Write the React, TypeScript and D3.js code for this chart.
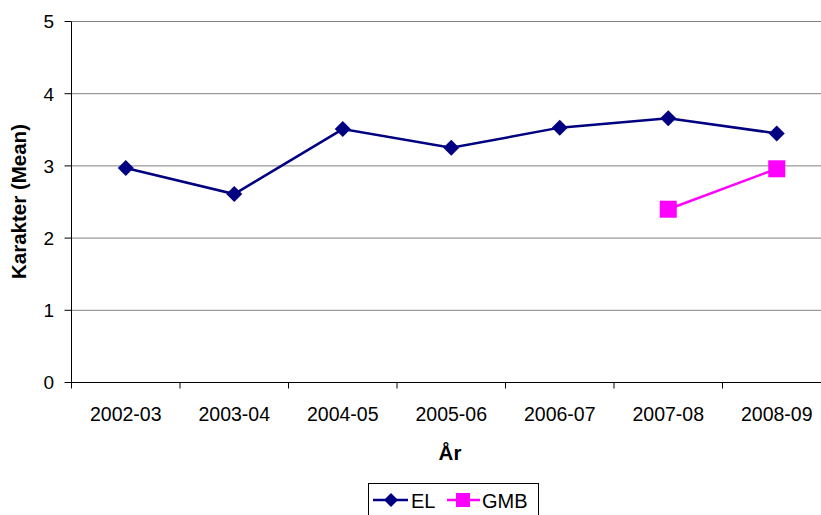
import React from "react";
import * as d3 from "d3";

const categories = ["2002-03", "2003-04", "2004-05", "2005-06", "2006-07", "2007-08", "2008-09"];
const elValues: (number | null)[] = [2.97, 2.61, 3.51, 3.25, 3.53, 3.66, 3.45];
const gmbValues: (number | null)[] = [null, null, null, null, null, 2.4, 2.96];
const yTicks = [0, 1, 2, 3, 4, 5];

const W = 821, H = 515;
const left = 71.5, right = 831, top = 21.5, bottom = 382.5;

export default function App() {
  const x = d3.scaleBand<string>().domain(categories).range([left, right]);
  const y = d3.scaleLinear().domain([0, 5]).range([bottom, top]);
  const cx = (c: string) => (x(c) as number) + x.bandwidth() / 2;

  const mk = (vals: (number | null)[]) =>
    d3.line<[string, number | null]>()
      .defined((d) => d[1] != null)
      .x((d) => cx(d[0]))
      .y((d) => y(d[1] as number))(categories.map((c, i) => [c, vals[i]]));

  const font = "'Liberation Sans', Arial, sans-serif";
  const navy = "#000080";
  const mag = "#FF00FF";

  return (
    <svg width={W} height={H} style={{ position: "absolute", left: 0, top: 0, background: "#fff" }} fontFamily={font}>
      {yTicks.filter((t) => t > 0).map((t) => (
        <line key={t} x1={left} x2={right} y1={y(t)} y2={y(t)} stroke="#808080" strokeWidth={1} />
      ))}
      <line x1={left} x2={left} y1={top} y2={bottom} stroke="#000" />
      <line x1={left} x2={right} y1={bottom} y2={bottom} stroke="#000" />
      {yTicks.map((t) => (
        <g key={t}>
          <line x1={left - 7} x2={left} y1={y(t)} y2={y(t)} stroke="#000" />
          <text x={54} y={y(t)} dy="0.36em" textAnchor="end" fontSize={19} fill="#000">{t}</text>
        </g>
      ))}
      {categories.map((c) => (
        <line key={c} x1={x(c) as number} x2={x(c) as number} y1={bottom} y2={bottom + 6} stroke="#000" />
      ))}
      {categories.map((c) => (
        <text key={c} x={cx(c)} y={421} textAnchor="middle" fontSize={19.5} fill="#000">{c}</text>
      ))}
      <text x={450} y={460} textAnchor="middle" fontSize={20.5} fontWeight="bold">År</text>
      <text transform={`translate(26,201.5) rotate(-90)`} textAnchor="middle" fontSize={20.5} fontWeight="bold">Karakter (Mean)</text>

      <path d={mk(elValues) || ""} fill="none" stroke={navy} strokeWidth={2.5} />
      <path d={mk(gmbValues) || ""} fill="none" stroke={mag} strokeWidth={2.5} />
      {categories.map((c, i) =>
        elValues[i] != null ? (
          <path key={c} d="M0,-8L8,0L0,8L-8,0Z" transform={`translate(${cx(c)},${y(elValues[i] as number)})`} fill={navy} />
        ) : null
      )}
      {categories.map((c, i) =>
        gmbValues[i] != null ? (
          <rect key={c} x={cx(c) - 8.5} y={y(gmbValues[i] as number) - 8.5} width={17} height={17} fill={mag} />
        ) : null
      )}

      <rect x={368.5} y={483.5} width={170} height={40} fill="#fff" stroke="#000" />
      <line x1={373} x2={408} y1={500} y2={500} stroke={navy} strokeWidth={2.5} />
      <path d="M0,-7L7,0L0,7L-7,0Z" transform="translate(391,500)" fill={navy} />
      <text x={411} y={508} fontSize={20}>EL</text>
      <line x1={447} x2={480} y1={500} y2={500} stroke={mag} strokeWidth={2.5} />
      <rect x={456} y={493} width={14} height={14} fill={mag} />
      <text x={482} y={508} fontSize={20}>GMB</text>
    </svg>
  );
}
